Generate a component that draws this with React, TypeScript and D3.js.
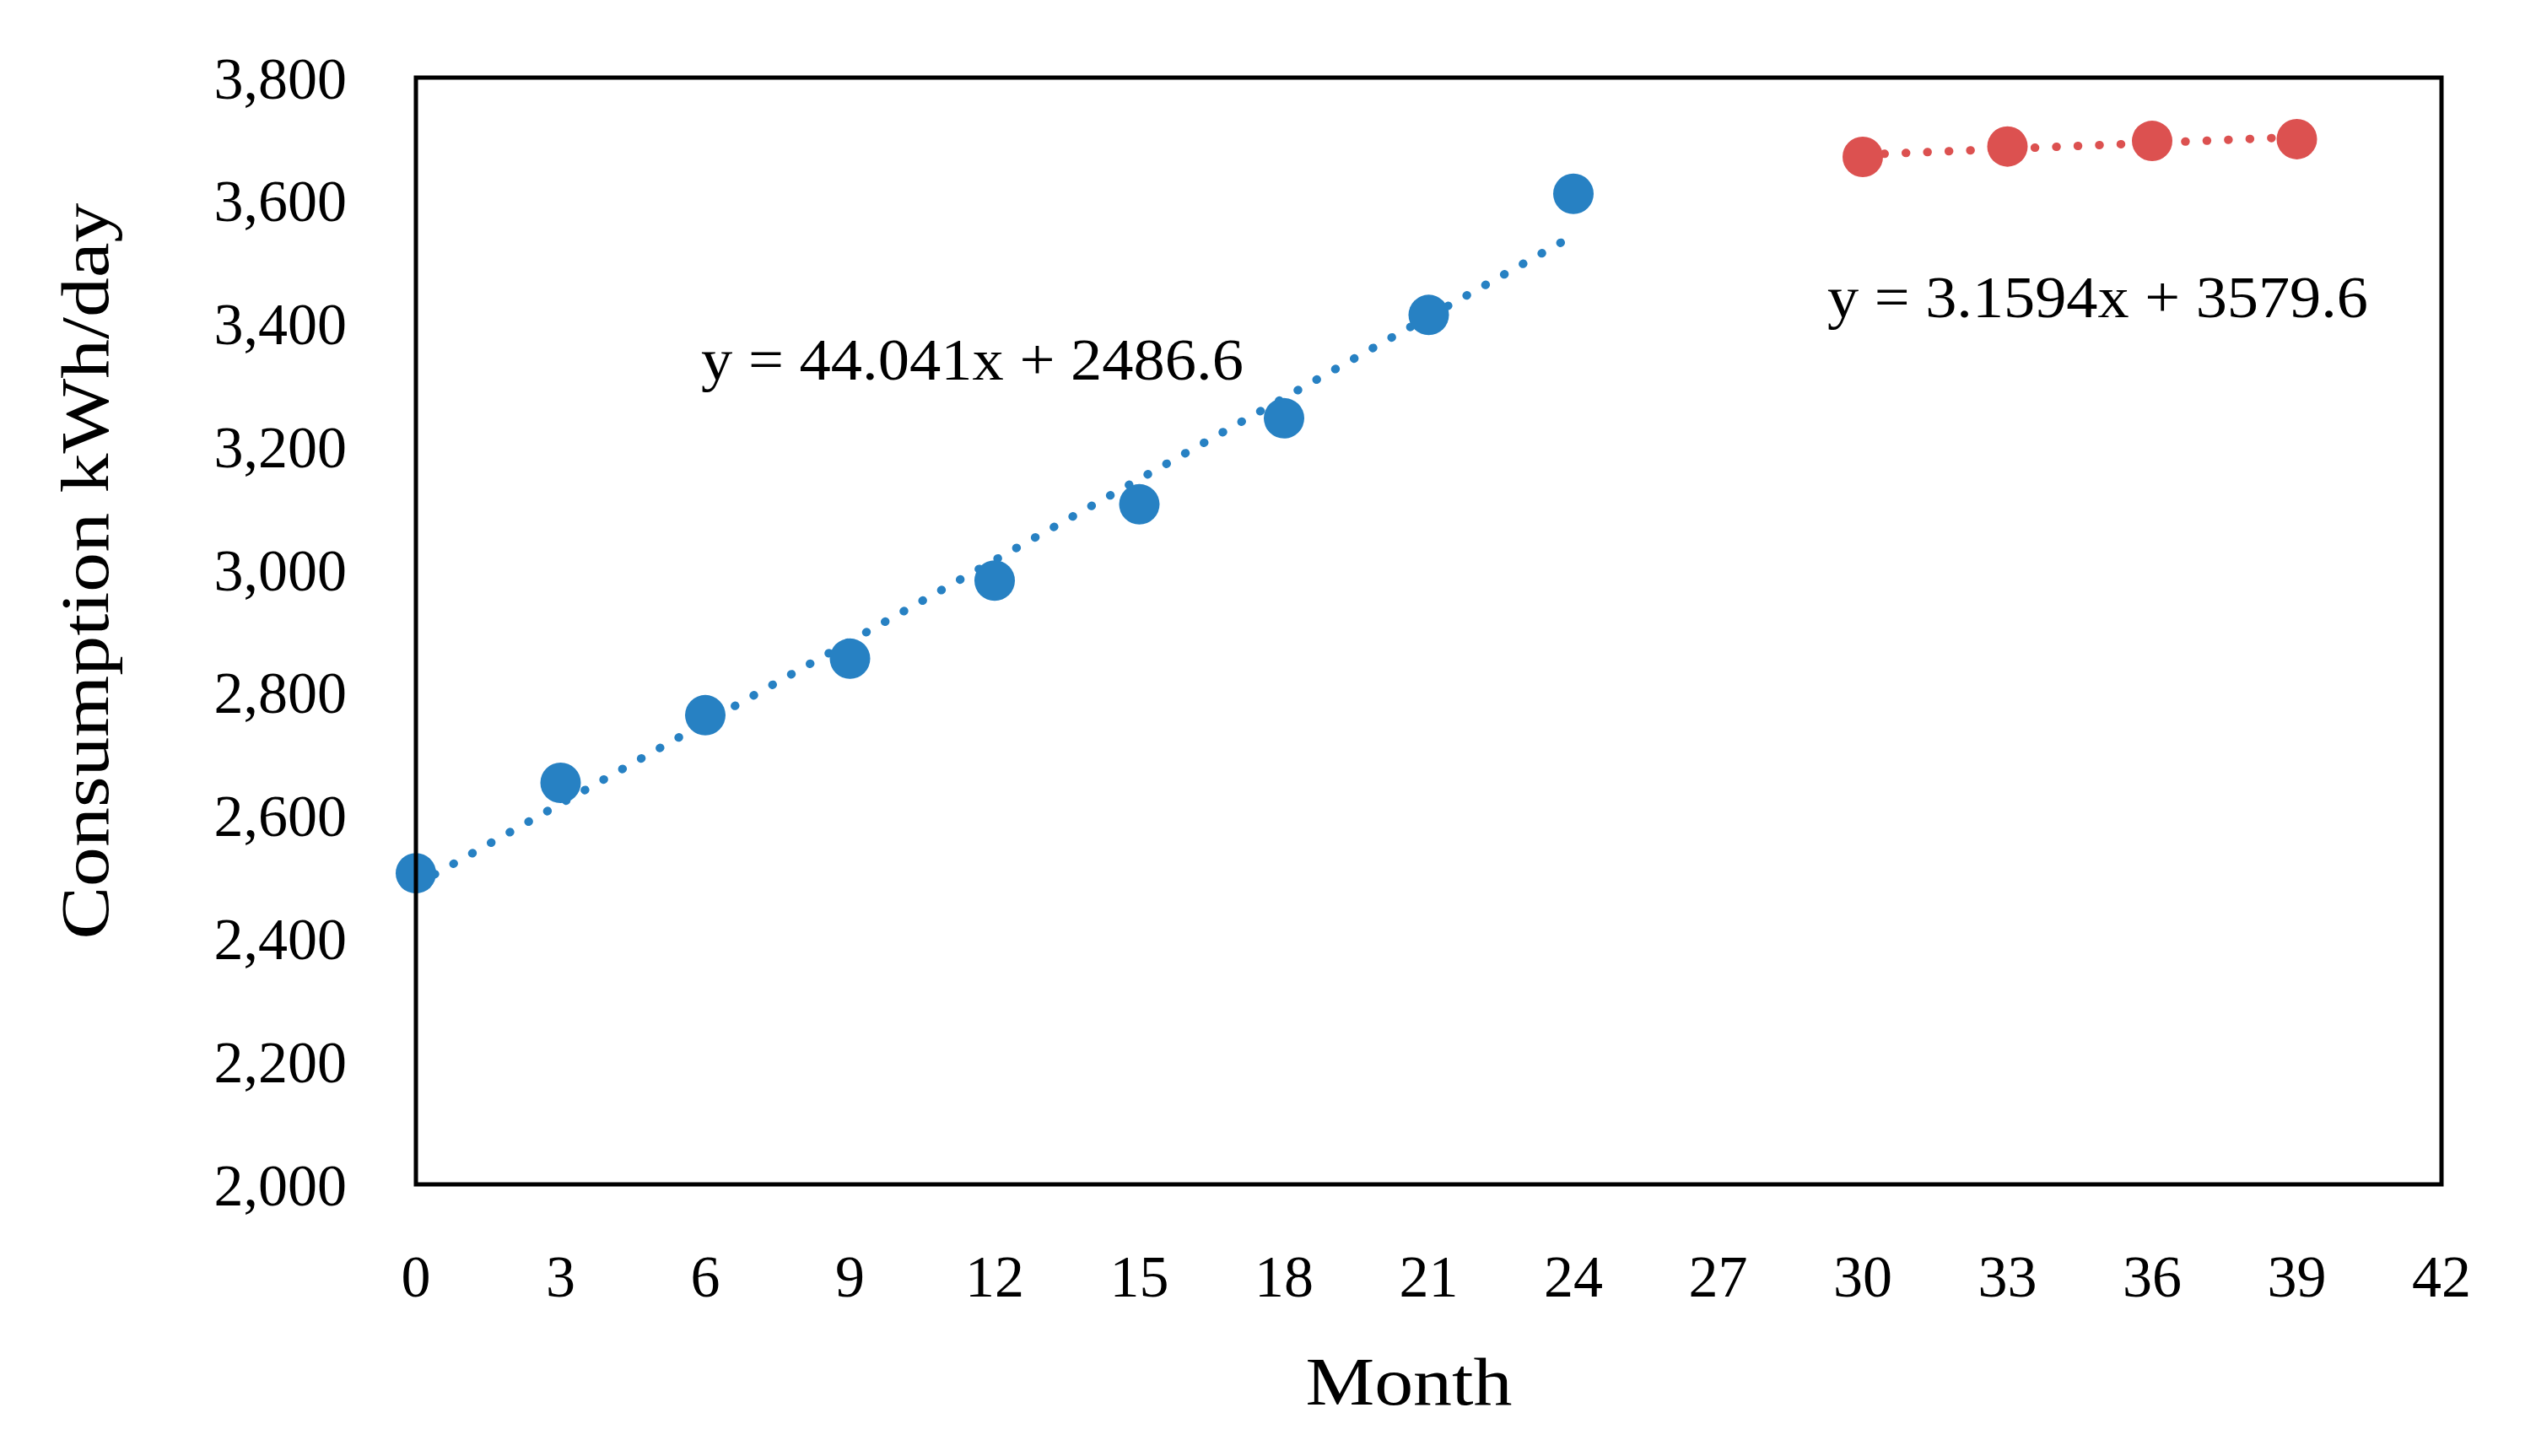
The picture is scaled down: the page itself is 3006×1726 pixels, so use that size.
import * as d3 from "d3";
import React from "react";

// month values and readings
const blueMonths = [0, 3, 6, 9, 12, 15, 18, 21, 24];
const blueValues = [2506, 2653, 2763, 2855, 2982, 3106, 3246, 3414, 3611];
const redMonths = [30, 33, 36, 39];
const redValues = [3671, 3688, 3697, 3700];

const xTicks = [0, 3, 6, 9, 12, 15, 18, 21, 24, 27, 30, 33, 36, 39, 42];
const yTicks = [2000, 2200, 2400, 2600, 2800, 3000, 3200, 3400, 3600, 3800];

const blueEq = "y = 44.041x + 2486.6";
const redEq = "y = 3.1594x + 3579.6";
const xTitle = "Month";
const yTitle = "Consumption kWh/day";

const W = 3006;
const H = 1726;
const FONT = "'Liberation Serif', 'Times New Roman', serif";

// least squares fit, same as excel's linear trendline
function fit(xs: number[], ys: number[]) {
  const mx = d3.mean(xs)!;
  const my = d3.mean(ys)!;
  let num = 0, den = 0;
  xs.forEach((x, i) => {
    num += (x - mx) * (ys[i] - my);
    den += (x - mx) * (x - mx);
  });
  const b = num / den;
  return { b, a: my - b * mx };
}

export default function App() {
  const x = d3.scaleLinear().domain([0, 42]).range([493, 2894]);
  const y = d3.scaleLinear().domain([2000, 3800]).range([1404, 92]);
  const fmt = d3.format(",");

  const series = [
    { months: blueMonths, values: blueValues, color: "#2781C3" },
    { months: redMonths, values: redValues, color: "#DC5150" },
  ];

  return (
    <svg
      width={W}
      height={H}
      style={{ position: "absolute", left: 0, top: 0, background: "#fff" }}
      fontFamily={FONT}
    >
      <rect x={0} y={0} width={W} height={H} fill="#fff" />

      {/* y tick labels */}
      {yTicks.map(t => (
        <text key={t} x={411} y={y(t)} dy="0.35em" textAnchor="end" fontSize={70}>
          {fmt(t)}
        </text>
      ))}

      {/* x tick labels */}
      {xTicks.map(t => (
        <text key={t} x={x(t)} y={1537} textAnchor="middle" fontSize={70}>
          {t}
        </text>
      ))}

      {/* trend lines + points */}
      {series.map((s, i) => {
        const { a, b } = fit(s.months, s.values);
        const x0 = s.months[0];
        const x1 = s.months[s.months.length - 1];
        const line = d3.line<number>().x(m => x(m)).y(m => y(a + b * m));
        return (
          <g key={i}>
            <path
              d={line([x0, x1])!}
              fill="none"
              stroke={s.color}
              strokeWidth={10}
              strokeDasharray="0.5 25"
              strokeLinecap="round"
            />
            {s.months.map((m, j) => (
              <circle key={j} cx={x(m)} cy={y(s.values[j])} r={24} fill={s.color} />
            ))}
          </g>
        );
      })}

      {/* plot frame */}
      <rect x={493} y={92} width={2894 - 493} height={1404 - 92} fill="none" stroke="#000" strokeWidth={5} />

      {/* equations */}
      <text x={831} y={450} fontSize={70} textLength={643} lengthAdjust="spacingAndGlyphs">
        {blueEq}
      </text>
      <text x={2166} y={376} fontSize={70} textLength={641} lengthAdjust="spacingAndGlyphs">
        {redEq}
      </text>

      {/* axis titles */}
      <text x={1670} y={1665} textAnchor="middle" fontSize={80} textLength={245} lengthAdjust="spacingAndGlyphs">
        {xTitle}
      </text>
      <text
        transform="translate(128,677) rotate(-90)"
        textAnchor="middle"
        fontSize={80}
        textLength={873}
        lengthAdjust="spacingAndGlyphs"
      >
        {yTitle}
      </text>
    </svg>
  );
}
